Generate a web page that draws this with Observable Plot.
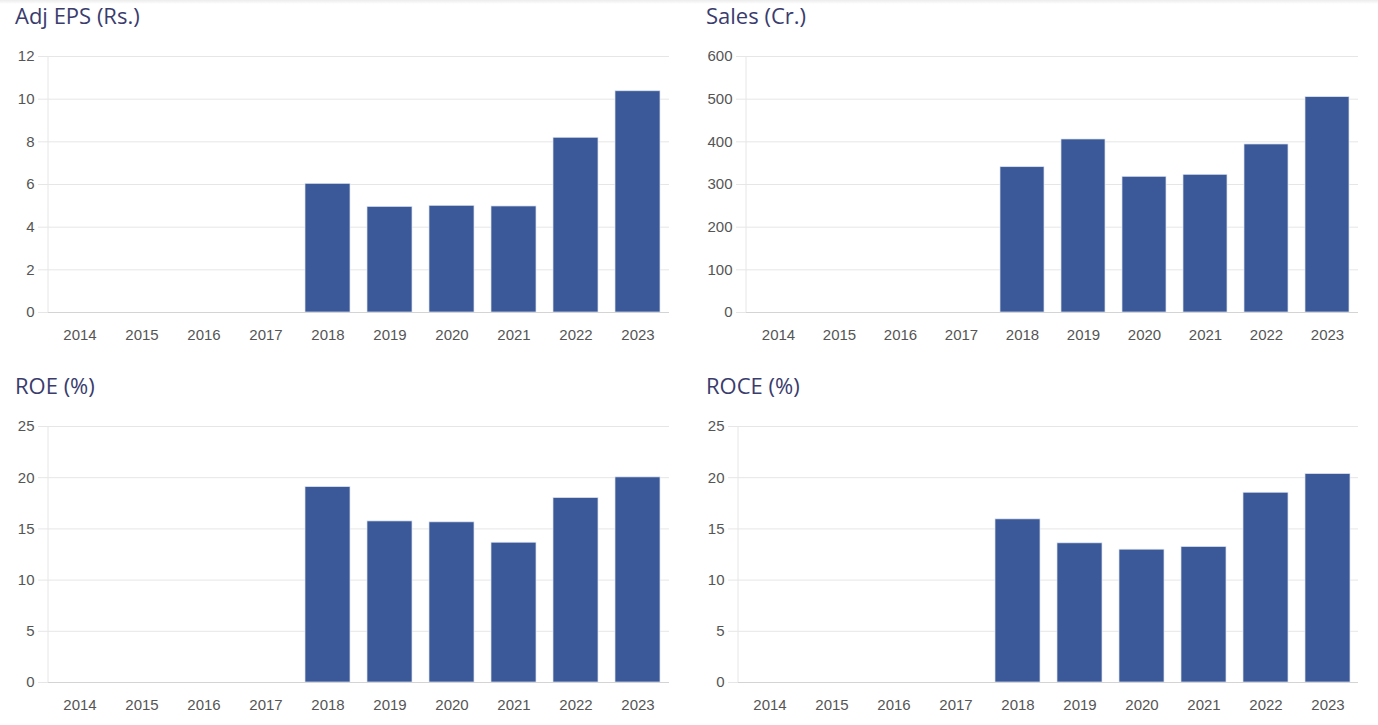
<!DOCTYPE html>
<html>
<head>
<meta charset="utf-8">
<script src="https://cdn.jsdelivr.net/npm/d3@7"></script>
<script src="https://cdn.jsdelivr.net/npm/@observablehq/plot@0.6"></script>
<style>
  html, body { margin: 0; padding: 0; background: #fff; }
  body { width: 1378px; height: 725px; position: relative; overflow: hidden; }
  .topshade { position: absolute; left: 0; top: 0; width: 1378px; height: 4px;
    background: linear-gradient(#ececec, rgba(255,255,255,0)); }
  .panel { position: absolute; }
  .title { position: absolute; left: 15px; top: 0; font-family: "Open Sans", sans-serif;
    font-size: 22px; font-weight: 500; color: #3a3c6e; line-height: 30px; white-space: nowrap; }
  .panel svg { position: absolute; left: 0; top: 36px; }
</style>
</head>
<body>
<div class="topshade"></div>
<div id="p1" class="panel" style="left:0;top:0;width:689px;height:360px"><div class="title">Adj EPS (Rs.)</div></div>
<div id="p2" class="panel" style="left:690px;top:0;width:688px;height:360px"><div class="title" style="left:16px">Sales (Cr.)</div></div>
<div id="p3" class="panel" style="left:0;top:370px;width:689px;height:355px"><div class="title">ROE (%)</div></div>
<div id="p4" class="panel" style="left:690px;top:370px;width:688px;height:355px"><div class="title" style="left:16px">ROCE (%)</div></div>
<script>
const years = ["2014","2015","2016","2017","2018","2019","2020","2021","2022","2023"];
const epsValues   = [null, null, null, null, 6.03, 4.95, 5.00, 4.97, 8.19, 10.37];
const salesValues = [null, null, null, null, 340.6, 405.5, 318.0, 322.7, 393.8, 504.7];
const roeValues   = [null, null, null, null, 19.08, 15.73, 15.64, 13.65, 18.01, 20.03];
const roceValues  = [null, null, null, null, 15.93, 13.59, 12.97, 13.23, 18.53, 20.35];
const epsTicks   = [0, 2, 4, 6, 8, 10, 12];
const salesTicks = [0, 100, 200, 300, 400, 500, 600];
const pctTicks   = [0, 5, 10, 15, 20, 25];

function panel(id, values, ticks, width, marginLeft) {
  const data = years.map((y, i) => ({year: y, value: values[i]})).filter(d => d.value != null);
  const leftLine = (index, scales, channels, dimensions) => {
    const x = dimensions.marginLeft;
    return d3.create("svg:line")
      .attr("x1", x).attr("x2", x)
      .attr("y1", dimensions.marginTop).attr("y2", dimensions.height - dimensions.marginBottom)
      .attr("stroke", "#e6e6e6").node();
  };
  const chart = Plot.plot({
    width, height: 312,
    marginTop: 20, marginBottom: 36, marginLeft, marginRight: 20,
    style: {fontFamily: "'Liberation Sans', Arial, sans-serif", fontSize: "15px", color: "#555", background: "transparent"},
    x: {domain: years, paddingInner: 0.28, paddingOuter: 0.14, label: null},
    y: {domain: [0, ticks[ticks.length - 1]], label: null},
    marks: [
      Plot.gridY(ticks, {stroke: "#e6e6e6", strokeOpacity: 1}),
      leftLine,
      Plot.axisY(ticks, {tickSize: 10, tickPadding: 4, stroke: "#e6e6e6", strokeOpacity: 1, fill: "#555", label: null}),
      Plot.axisX({tickSize: 0, tickPadding: 17, fill: "#555", label: null}),
      Plot.barY(data, {x: "year", y: "value", fill: "#3b5998", stroke: "#dde3ee", strokeWidth: 0.7}),
      Plot.ruleY([0], {stroke: "#d4d4d4"})
    ]
  });
  document.getElementById(id).appendChild(chart);
}

panel("p1", epsValues, epsTicks, 689, 48);
panel("p2", salesValues, salesTicks, 688, 56);
panel("p3", roeValues, pctTicks, 689, 48);
panel("p4", roceValues, pctTicks, 688, 48);
</script>
</body>
</html>
